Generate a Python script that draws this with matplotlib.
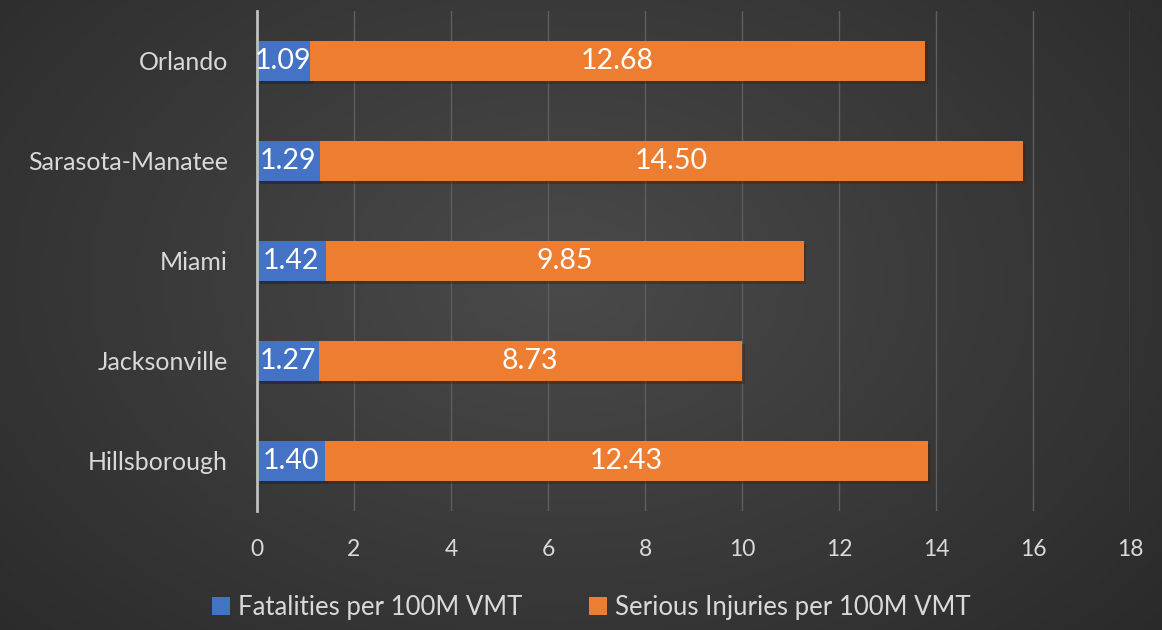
import numpy as np
import matplotlib.pyplot as plt
from matplotlib import patheffects as pe

plt.rcParams['font.family'] = ['Lato', 'DejaVu Sans']

cities = ["Hillsborough", "Jacksonville", "Miami", "Sarasota-Manatee", "Orlando"]
fatalities = [1.40, 1.27, 1.42, 1.29, 1.09]
injuries = [12.43, 8.73, 9.85, 14.50, 12.68]
xticks = [0, 2, 4, 6, 8, 10, 12, 14, 16, 18]

fig = plt.figure(figsize=(11.62, 6.3), dpi=100)

# radial background gradient
bg = fig.add_axes([0, 0, 1, 1], zorder=-10)
yy, xx = np.mgrid[0:630, 0:1162]
r = np.sqrt(((xx - 560) / 760.0) ** 2 + ((yy - 280) / 520.0) ** 2)
shade = np.clip(0.29 - 0.12 * r, 0.16, 0.29)
bg.imshow(np.dstack([shade] * 3), aspect='auto', extent=[0, 1, 0, 1])
bg.axis('off')

ax = fig.add_axes([257 / 1162, 1 - 511 / 630, (1130 - 257) / 1162, 500 / 630])
ax.set_facecolor('none')

y = np.arange(len(cities))
shadow = [pe.SimplePatchShadow(offset=(2, -2), alpha=0.5), pe.Normal()]
b1 = ax.barh(y, fatalities, height=0.4, color='#4472C4', label='Fatalities per 100M VMT',
             zorder=3, path_effects=shadow)
b2 = ax.barh(y, injuries, height=0.4, left=fatalities, color='#ED7D31',
             label='Serious Injuries per 100M VMT', zorder=3, path_effects=shadow)

for i in range(len(cities)):
    ax.text(fatalities[i] / 2, y[i], f"{fatalities[i]:.2f}", ha='center', va='center',
            color='white', fontsize=20.5, zorder=5)
    ax.text(fatalities[i] + injuries[i] / 2, y[i], f"{injuries[i]:.2f}", ha='center',
            va='center', color='white', fontsize=20.5, zorder=5)

ax.set_xlim(0, 18)
ax.set_ylim(-0.5, len(cities) - 0.5)
ax.set_xticks(xticks)
ax.set_yticks(y)
ax.set_yticklabels(cities)
ax.xaxis.grid(True, color='#5e5e5e', linewidth=1, zorder=0)
ax.set_axisbelow(True)
for s in ['top', 'right', 'bottom']:
    ax.spines[s].set_visible(False)
ax.spines['left'].set_color('#bfbfbf')
ax.spines['left'].set_linewidth(2)
ax.spines['left'].set_zorder(4)
ax.tick_params(axis='x', length=0, pad=20, labelsize=16.5, labelcolor='#d9d9d9')
ax.tick_params(axis='y', length=0, pad=21, labelsize=18, labelcolor='#d9d9d9')

leg = fig.legend(handles=[b1, b2], loc='center', bbox_to_anchor=(0.509, 0.035), ncol=2,
                 frameon=False, fontsize=18.5, handlelength=0.7, handleheight=0.7,
                 handletextpad=0.3, columnspacing=2.6, labelcolor='#d9d9d9')
for h in leg.legend_handles:
    h.set_path_effects([])

fig.savefig('out.png', dpi=100)
